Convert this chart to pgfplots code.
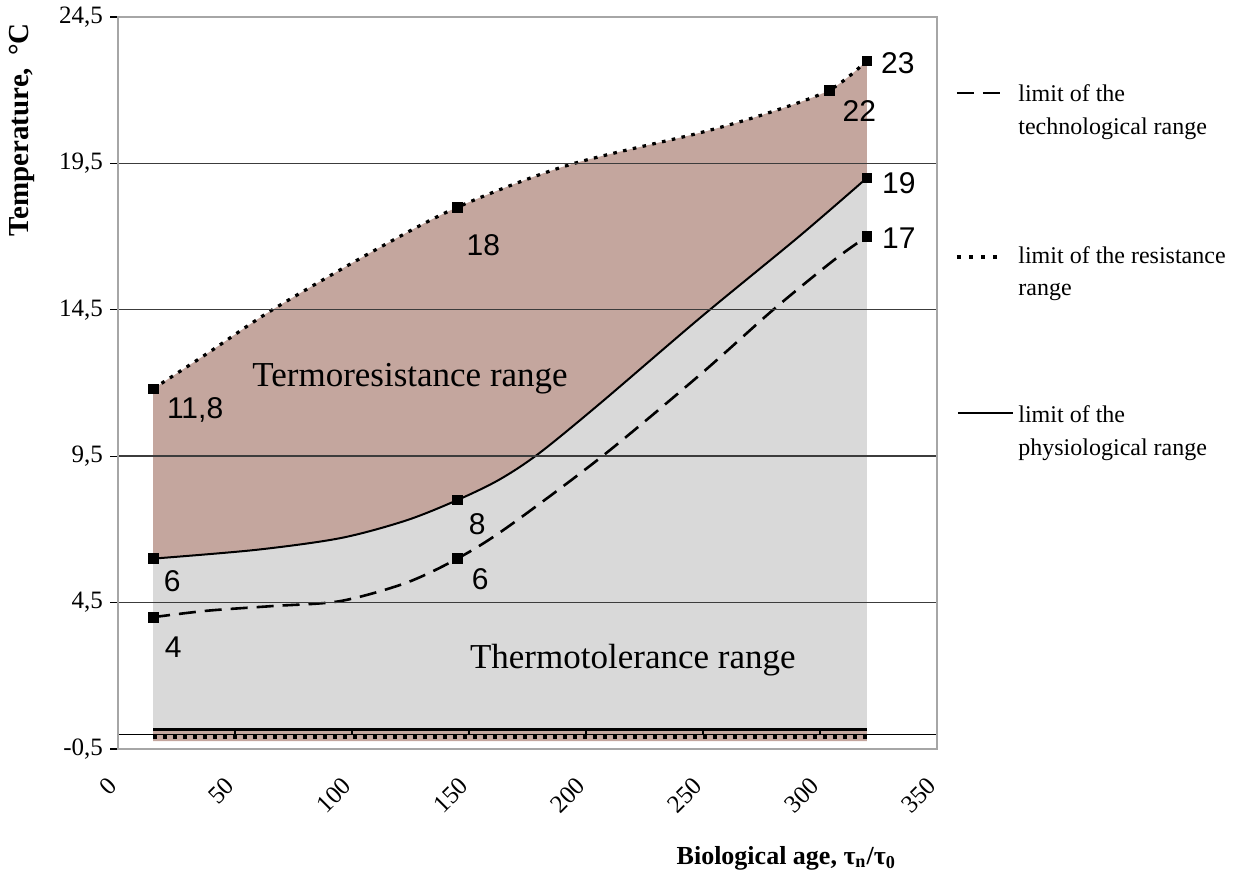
\documentclass[border=0pt]{standalone}
\usepackage{fontspec}
\setmainfont{Liberation Serif}
\newfontfamily\arial{Liberation Sans}
\usepackage{pgfplots}
\usepackage{pgfplotstable}
\pgfplotsset{compat=1.18}
\usepgfplotslibrary{fillbetween}

\definecolor{resfill}{RGB}{196,166,158}
\definecolor{tolfill}{RGB}{217,217,217}
\definecolor{gridc}{RGB}{60,60,60}

% upper limit of the resistance range
\pgfplotstableread{
x y
15 11.8
38 13.0
66 14.5
109 16.5
145 18
192 19.43
249 20.55
277 21.2
304 22
320 23
}\resist

% upper limit of the physiological range
\pgfplotstableread{
x y
15 6
59 6.3
95 6.7
123 7.3
145 8
163 8.7
180 9.6
206 11.3
249 14.24
291 17.0
320 19
}\physio

% upper limit of the technological range
\pgfplotstableread{
x y
15 4
38 4.22
66 4.38
95 4.55
123 5.17
145 6
166 7.05
207 9.5
249 12.3
280 14.5
306 16.2
320 17
}\techno

\tikzset{
  resline/.style={black, line width=1.6pt, dash pattern=on 1.8pt off 3.2pt},
  techline/.style={black, line width=1.3pt, dash pattern=on 8.5pt off 4.5pt},
  physline/.style={black, line width=1pt},
}

\begin{document}
\begin{tikzpicture}
\begin{axis}[
    scale only axis,
    width=409.5pt, height=366pt,
    xmin=0, xmax=350,
    ymin=-0.5, ymax=24.5,
    xtick={0,50,100,150,200,250,300,350},
    ytick={-0.5,4.5,9.5,14.5,19.5,24.5},
    yticklabels={{-0,5},{4,5},{9,5},{14,5},{19,5},{24,5}},
    xtick pos=bottom, ytick pos=left,
    tick align=outside,
    major tick length=4pt,
    xtick style={draw=none},
    ytick style={black, line width=0.6pt},
    ticklabel style={font=\fontsize{12.5}{13}\selectfont},
    /pgf/number format/assume math mode=true,
    xticklabel style={rotate=45, anchor=east, yshift=-7pt, xshift=-7pt},
    ymajorgrids=true,
    grid style={gridc, line width=0.7pt},
    axis line style={draw=gray!70, line width=0.6pt},
    axis on top,
    clip=false,
    xlabel={Biological age, τ\textsubscript{n}/τ\textsubscript{0}},
    ylabel={Temperature, \,°C},
    label style={font=\fontsize{13}{14}\selectfont\bfseries},
    xlabel style={at={(rel axis cs:0.816,-0.149)}, anchor=center},
    ylabel style={at={(rel axis cs:-0.117,0.846)}, anchor=center,
                  font=\fontsize{14.5}{15}\selectfont\bfseries},
]

% invisible frame giving the picture the reference's proportions
\path (rel axis cs:-0.1441,-0.1708) rectangle (rel axis cs:1.3651,1.0232);

% named boundaries for the filled ranges
\addplot[draw=none, smooth, name path=res, forget plot] table {\resist};
\addplot[draw=none, smooth, name path=phys, forget plot] table {\physio};
\addplot[draw=none, name path=resbase, forget plot] coordinates {(15,-0.23) (320,-0.23)};
\addplot[draw=none, name path=physbase, forget plot] coordinates {(15,0.17) (320,0.17)};

\addplot[resfill, draw=none] fill between[of=res and resbase];
\addplot[tolfill, draw=none] fill between[of=phys and physbase];

% x axis line at 0 with its ticks
\draw[black, line width=0.6pt] (axis cs:0,0) -- (axis cs:350,0);
\pgfplotsinvokeforeach{50,100,150,200,250,300}{
  \draw[black, line width=0.6pt] (axis cs:#1,0) -- ++(0,-5.5pt);
}
\draw[black, line width=0.6pt] (rel axis cs:0,0) -- (rel axis cs:0,1);

% lower limits
\addplot[black, line width=1.5pt] coordinates {(15,0.17) (320,0.17)};
\addplot[resline] coordinates {(15,-0.09) (320,-0.09)};

% limits
\addplot[resline, smooth] table {\resist};
\addplot[physline, smooth] table {\physio};
\addplot[techline, smooth] table {\techno};

% measured points
\addplot[only marks, mark=square*, mark size=2.4pt, black] coordinates {
  (15,11.8) (145,18) (304,22) (320,23)
  (15,6) (145,8) (320,19)
  (15,4) (145,6) (320,17)
};

% point labels
\begin{scope}[font=\arial\fontsize{15}{16}\selectfont]
\node at (axis cs:15,11.8) [xshift=21pt, yshift=-10.5pt] {11,8};
\node at (axis cs:145,18) [xshift=13pt, yshift=-19pt] {18};
\node at (axis cs:304,22) [xshift=15pt, yshift=-10.5pt] {22};
\node at (axis cs:320,23) [xshift=15.5pt, yshift=-1pt] {23};
\node at (axis cs:15,6) [xshift=9.5pt, yshift=-11.5pt] {6};
\node at (axis cs:145,8) [xshift=10pt, yshift=-12pt] {8};
\node at (axis cs:320,19) [xshift=16pt, yshift=-2.5pt] {19};
\node at (axis cs:15,4) [xshift=10pt, yshift=-15pt] {4};
\node at (axis cs:145,6) [xshift=11.5pt, yshift=-10.5pt] {6};
\node at (axis cs:320,17) [xshift=16pt, yshift=-1pt] {17};
\end{scope}

% range names
\node[font=\fontsize{17.5}{18}\selectfont] at (axis cs:124.8,12.16) {Termoresistance range};
\node[font=\fontsize{17.5}{18}\selectfont] at (axis cs:220,2.54) {Thermotolerance range};

% legend
\begin{scope}[font=\fontsize{12}{13}\selectfont]
\draw[techline] (rel axis cs:1.0244,0.8962) -- (rel axis cs:1.0794,0.8962);
\node[anchor=base west, inner sep=0pt] at (rel axis cs:1.0989,0.8839) {limit of the};
\node[anchor=base west, inner sep=0pt] at (rel axis cs:1.0989,0.8388) {technological range};
\draw[resline, dash pattern=on 2pt off 4pt] (rel axis cs:1.0244,0.6721) -- (rel axis cs:1.0794,0.6721);
\node[anchor=base west, inner sep=0pt] at (rel axis cs:1.0989,0.6626) {limit of the resistance};
\node[anchor=base west, inner sep=0pt] at (rel axis cs:1.0989,0.6189) {range};
\draw[physline] (rel axis cs:1.0256,0.4590) -- (rel axis cs:1.0928,0.4590);
\node[anchor=base west, inner sep=0pt] at (rel axis cs:1.0989,0.4454) {limit of the};
\node[anchor=base west, inner sep=0pt] at (rel axis cs:1.0989,0.4003) {physiological range};
\end{scope}

\end{axis}
\end{tikzpicture}
\end{document}
